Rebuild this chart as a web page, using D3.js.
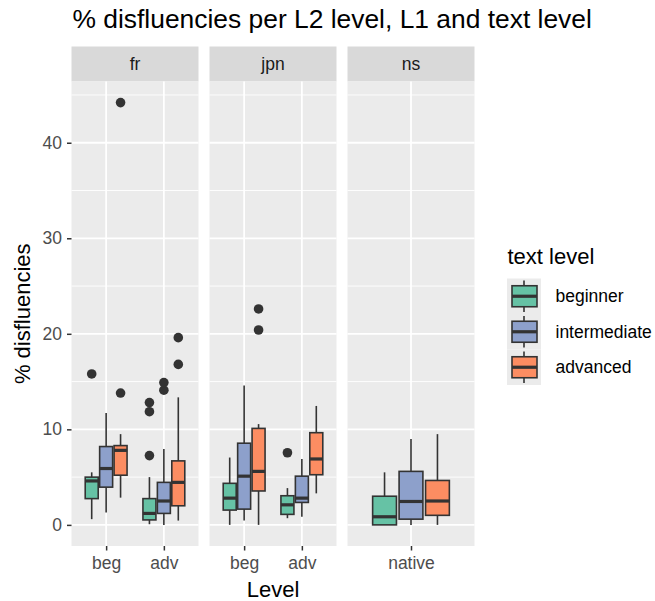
<!DOCTYPE html>
<html>
<head>
<meta charset="utf-8">
<script src="https://cdn.jsdelivr.net/npm/d3@7"></script>
<style>
  body { margin: 0; background: #fff; }
  svg { display: block; }
  text { font-family: "Liberation Sans", Arial, Helvetica, sans-serif; }
</style>
</head>
<body>
<svg id="chart" width="655" height="601"></svg>
<script>
// Facets (L1) and the L2 levels shown in each facet
const panels = ["fr", "jpn", "ns"];
const panelLevels = [["beg", "adv"], ["beg", "adv"], ["native"]];
const textLevels = ["beginner", "intermediate", "advanced"];
const textColors = ["#66C2A5", "#8DA0CB", "#FC8D62"];
const yTicks = [0, 10, 20, 30, 40];
const yMinorTicks = [5, 15, 25, 35, 45];

// Box summaries, one entry per box
const boxPanel = ["fr","fr","fr","fr","fr","fr","jpn","jpn","jpn","jpn","jpn","jpn","ns","ns","ns"];
const boxLevel = ["beg","beg","beg","adv","adv","adv","beg","beg","beg","adv","adv","adv","native","native","native"];
const boxText = ["beginner","intermediate","advanced","beginner","intermediate","advanced",
                 "beginner","intermediate","advanced","beginner","intermediate","advanced",
                 "beginner","intermediate","advanced"];
const whiskerLow  = [0.6, 1.3, 2.85, 0.07, 0.0, 0.45, 0.0, 0.45, 0.0, 0.7, 0.85, 3.3, 0.0, 0.0, 0.0];
const q1          = [2.75, 3.95, 5.2, 0.52, 1.2, 2.0, 1.55, 1.65, 3.55, 1.1, 2.35, 5.25, 0.0, 0.6, 1.0];
const median      = [4.6, 5.9, 7.8, 1.2, 2.5, 4.45, 2.8, 5.1, 5.6, 2.1, 2.8, 6.9, 0.85, 2.45, 2.5];
const q3          = [5.0, 8.2, 8.3, 2.75, 4.45, 6.7, 4.35, 8.55, 10.1, 3.05, 5.1, 9.65, 3.0, 5.6, 4.65];
const whiskerHigh = [5.5, 11.7, 9.5, 5.0, 7.95, 13.35, 7.05, 14.6, 10.55, 3.85, 6.9, 12.45, 5.5, 9.0, 9.5];
const outliers = [[15.8], [], [13.8, 44.2], [7.25, 11.85, 12.8], [14.1, 14.9], [16.8, 19.6],
                  [], [], [20.4, 22.6], [7.55], [], [],
                  [], [], []];

const boxes = boxPanel.map((p, i) => ({
  panel: p, level: boxLevel[i], text: boxText[i],
  lo: whiskerLow[i], q1: q1[i], med: median[i], q3: q3[i], hi: whiskerHigh[i],
  out: outliers[i]
}));

const svg = d3.select("#chart");
const ink = "#333333";
const smallFont = 17.5, axisTitleFont = 22;

// Layout
const panelLeft = 71.5, panelW = 127, panelGap = 11;
const stripTop = 46.5, stripH = 35;
const panelTop = stripTop + stripH, panelBottom = 546;

// Shared y scale with 5% expansion like ggplot
const allVals = boxes.flatMap(b => [b.lo, b.hi, ...b.out]);
const yMin = d3.min(allVals), yMax = d3.max(allVals);
const pad = (yMax - yMin) * 0.05;
const y = d3.scaleLinear().domain([yMin - pad, yMax + pad]).range([panelBottom, panelTop]);

const color = d3.scaleOrdinal().domain(textLevels).range(textColors);

// Title
svg.append("text")
  .attr("x", 72.5).attr("y", 28)
  .attr("font-size", 26.4).attr("fill", "#000")
  .text("% disfluencies per L2 level, L1 and text level");

panels.forEach((p, pi) => {
  const x0 = panelLeft + pi * (panelW + panelGap);
  const g = svg.append("g").attr("transform", `translate(${x0},0)`);
  const x = d3.scalePoint().domain(panelLevels[pi]).range([0, panelW]).padding(0.6);
  const slot = x.step() * 0.25;
  const boxW = slot * 0.9;
  const dodge = d3.scalePoint().domain(textLevels).range([-slot, slot]);

  // strip
  g.append("rect").attr("x", 0).attr("y", stripTop).attr("width", panelW).attr("height", stripH)
    .attr("fill", "#D9D9D9");
  g.append("text").attr("x", panelW / 2).attr("y", stripTop + stripH / 2)
    .attr("dy", "0.35em").attr("text-anchor", "middle")
    .attr("font-size", smallFont).attr("fill", "#1A1A1A").text(p);

  // panel background and grid
  g.append("rect").attr("x", 0).attr("y", panelTop).attr("width", panelW)
    .attr("height", panelBottom - panelTop).attr("fill", "#EBEBEB");
  g.selectAll("line.minor").data(yMinorTicks).join("line").attr("class", "minor")
    .attr("x1", 0).attr("x2", panelW).attr("y1", d => y(d)).attr("y2", d => y(d))
    .attr("stroke", "#fff").attr("stroke-width", 0.9);
  g.selectAll("line.major").data(yTicks).join("line").attr("class", "major")
    .attr("x1", 0).attr("x2", panelW).attr("y1", d => y(d)).attr("y2", d => y(d))
    .attr("stroke", "#fff").attr("stroke-width", 1.8);
  g.selectAll("line.vmajor").data(panelLevels[pi]).join("line").attr("class", "vmajor")
    .attr("x1", d => x(d)).attr("x2", d => x(d)).attr("y1", panelTop).attr("y2", panelBottom)
    .attr("stroke", "#fff").attr("stroke-width", 1.8);

  // x axis
  const xAxis = g.append("g").attr("transform", `translate(0,${panelBottom})`)
    .call(d3.axisBottom(x).tickSize(4.5).tickPadding(6));
  xAxis.select(".domain").remove();
  xAxis.selectAll(".tick line").attr("stroke", ink).attr("stroke-width", 1.5);
  xAxis.selectAll(".tick text").attr("font-size", smallFont).attr("fill", "#4D4D4D")
    .attr("font-family", "Liberation Sans, Arial, sans-serif");

  // boxes
  const pb = boxes.filter(b => b.panel === p);
  const bg = g.selectAll("g.box").data(pb).join("g").attr("class", "box")
    .attr("transform", d => `translate(${x(d.level) + dodge(d.text)},0)`);
  bg.append("line").attr("x1", 0).attr("x2", 0)
    .attr("y1", d => y(d.q3)).attr("y2", d => y(d.hi))
    .attr("stroke", ink).attr("stroke-width", 1.6);
  bg.append("line").attr("x1", 0).attr("x2", 0)
    .attr("y1", d => y(d.q1)).attr("y2", d => y(d.lo))
    .attr("stroke", ink).attr("stroke-width", 1.6);
  bg.append("rect").attr("x", -boxW / 2).attr("width", boxW)
    .attr("y", d => y(d.q3)).attr("height", d => y(d.q1) - y(d.q3))
    .attr("fill", d => color(d.text)).attr("stroke", ink).attr("stroke-width", 1.6);
  bg.append("line").attr("x1", -boxW / 2).attr("x2", boxW / 2)
    .attr("y1", d => y(d.med)).attr("y2", d => y(d.med))
    .attr("stroke", ink).attr("stroke-width", 3.2);
  bg.selectAll("circle").data(d => d.out).join("circle")
    .attr("cx", 0).attr("cy", d => y(d)).attr("r", 4.8).attr("fill", ink);

  // y axis on first panel
  if (pi === 0) {
    const yAxis = g.append("g").call(d3.axisLeft(y).tickValues(yTicks).tickSize(4.5).tickPadding(5));
    yAxis.select(".domain").remove();
    yAxis.selectAll(".tick line").attr("stroke", ink).attr("stroke-width", 1.5);
    yAxis.selectAll(".tick text").attr("font-size", smallFont).attr("fill", "#4D4D4D")
      .attr("font-family", "Liberation Sans, Arial, sans-serif");
  }
});

// axis titles
const plotMid = panelLeft + (3 * panelW + 2 * panelGap) / 2;
svg.append("text").attr("x", plotMid).attr("y", 597).attr("text-anchor", "middle")
  .attr("font-size", axisTitleFont).attr("fill", "#000").text("Level");
svg.append("text")
  .attr("transform", `translate(29.5,${(panelTop + panelBottom) / 2}) rotate(-90)`)
  .attr("text-anchor", "middle").attr("font-size", axisTitleFont).attr("fill", "#000")
  .text("% disfluencies");

// legend
const lg = svg.append("g").attr("transform", "translate(507,0)");
lg.append("text").attr("x", 0.5).attr("y", 263.5).attr("font-size", axisTitleFont).attr("fill", "#000")
  .text("text level");
const keyH = 35.5, keyW = 34, keyTop = 278.5;
textLevels.forEach((t, i) => {
  const ky = keyTop + i * keyH;
  const k = lg.append("g").attr("transform", `translate(0,${ky})`);
  k.append("rect").attr("width", keyW).attr("height", keyH).attr("fill", "#EBEBEB");
  k.append("line").attr("x1", keyW / 2).attr("x2", keyW / 2).attr("y1", 2).attr("y2", keyH - 2)
    .attr("stroke", ink).attr("stroke-width", 1.6);
  k.append("rect").attr("x", 5).attr("y", keyH / 2 - 10.5).attr("width", keyW - 9).attr("height", 21)
    .attr("fill", textColors[i]).attr("stroke", ink).attr("stroke-width", 1.6);
  k.append("line").attr("x1", 5).attr("x2", keyW - 4).attr("y1", keyH / 2).attr("y2", keyH / 2)
    .attr("stroke", ink).attr("stroke-width", 3.2);
  lg.append("text").attr("x", 48.5).attr("y", ky + keyH / 2).attr("dy", "0.35em")
    .attr("font-size", smallFont).attr("fill", "#000").text(t);
});
</script>
</body>
</html>
